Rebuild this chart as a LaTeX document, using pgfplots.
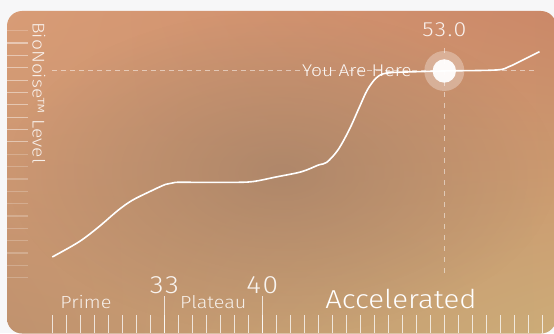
\documentclass[border=0pt]{standalone}
\usepackage{fontspec}
\IfFontExistsTF{Fira Sans Light}{\setmainfont{Fira Sans Light}[FakeStretch=1.13]}{%
  \setmainfont{Fira Sans}[FakeStretch=1.13]}
\usepackage{pgfplots}
\pgfplotsset{compat=1.18}
\usetikzlibrary{fadings,shadings}

\definecolor{pagebg}{RGB}{247,247,248}
\definecolor{cardTL}{RGB}{216,156,118}
\definecolor{cardTR}{RGB}{203,136,104}
\definecolor{cardBL}{RGB}{192,146,110}
\definecolor{cardBR}{RGB}{204,172,120}
\definecolor{cardmid}{RGB}{160,126,102}

\tikzfading[name=centerdark, inner color=transparent!35, outer color=transparent!100]

\begin{document}
\begin{tikzpicture}[x=1pt,y=1pt]
  % page and card
  \path[use as bounding box, fill=pagebg] (0,0) rectangle (554,333);
  \clip (0,0) rectangle (554,333);
  \shade[rounded corners=15pt, upper left=cardTL, upper right=cardTR,
         lower left=cardBL, lower right=cardBR] (7,-0.5) rectangle (556,322);
  \fill[cardmid, path fading=centerdark, fit fading=true]
        (7,-0.5) rectangle (556,322);

  \begin{axis}[
    at={(7pt,0pt)}, anchor=south west,
    width=547pt, height=322pt, scale only axis,
    xmin=21.764, xmax=60.836,
    ymin=-22.39, ymax=107.98,
    axis line style={draw=none},
    tick align=inside,
    % level ruler on the left
    ytick={0,5,...,100}, yticklabels={}, ytick pos=left,
    major tick length=21pt,
    tick style={white, opacity=0.22, line width=1.2pt},
    extra y ticks={55,60,...,95}, extra y tick labels={},
    extra y tick style={tick style={white, opacity=0.3, line width=1.2pt}},
    % age ruler along the bottom
    xtick=\empty, xtick pos=left,
    extra x ticks={25,...,60}, extra x tick labels={},
    extra x tick style={major tick length=18pt,
      tick style={white, opacity=0.75, line width=1.3pt}},
    clip=false,
  ]
    % long ruler marks at the phase boundaries
    \addplot[white, opacity=0.75, line width=1.3pt] coordinates {(33,-22.39) (33,-7.4)};
    \addplot[white, opacity=0.75, line width=1.3pt] coordinates {(40,-22.39) (40,-7.4)};

    % guide lines through the current position
    \addplot[white, opacity=0.5, line width=1.3pt, dash pattern=on 5pt off 4pt]
      coordinates {(25,84) (59.6,84)};
    \addplot[white, opacity=0.5, line width=1.3pt, dash pattern=on 5pt off 6pt]
      coordinates {(53,1.9) (53,95.4)};

    \node[anchor=base, text=white, opacity=0.92, font=\fontsize{17}{20}\selectfont]
      at (axis cs:46.76,81.3) {You Are Here};

    % level curve
    \addplot[white, line width=1.6pt, smooth, tension=0.55] coordinates {
      (25,8.4) (26.9,14.5) (28.3,20.5) (29.7,27.3) (30.7,31.3) (31.9,34.7)
      (33.1,37.8) (33.8,38.6) (35.5,38.6) (37.8,38.6) (39.3,38.9) (41.0,40.8)
      (42.8,42.9) (44.0,45.6) (44.6,46.7) (45.4,51.7) (46.2,59.8) (46.9,68.6)
      (47.5,76.0) (48.1,80.7) (48.6,82.5) (49.2,83.0) (49.8,83.2) (53,83.7)
      (56.7,84.1) (57.6,85.4) (58.6,88.1) (59.8,91.5)};

    % current position marker
    \addplot[only marks, mark=*, mark size=20pt, color=white,
             fill opacity=0.3, draw opacity=0]
      coordinates {(53,83.7)};
    \addplot[only marks, mark=*, mark size=11.7pt, color=white,
             fill opacity=0.95, draw opacity=0]
      coordinates {(53,83.7)};

    \node[anchor=base, text=white, opacity=0.88,
          font=\fontsize{20.5}{24}\selectfont\addfontfeatures{LetterSpace=7}]
      at (axis cs:53,97.6) {53.0};

    % scale labels
    \node[anchor=base, text=white, opacity=0.9,
          font=\fontsize{25}{30}\selectfont\addfontfeatures{LetterSpace=6}]
      at (axis cs:33,-6.2) {33};
    \node[anchor=base, text=white, opacity=0.9,
          font=\fontsize{25}{30}\selectfont\addfontfeatures{LetterSpace=6}]
      at (axis cs:40,-6.2) {40};
    \node[anchor=base, text=white, opacity=0.85, font=\fontsize{17.5}{21}\selectfont]
      at (axis cs:27.4,-12.55) {Prime};
    \node[anchor=base, text=white, opacity=0.85, font=\fontsize{17.5}{21}\selectfont]
      at (axis cs:36.5,-12.55) {Plateau};
    \node[anchor=base, text=white, font=\fontsize{26}{31}\selectfont]
      at (axis cs:49.9,-12.55) {Accelerated};

    \node[rotate=-90, text=white, opacity=0.85, font=\fontsize{17}{20}\selectfont]
      at (axis cs:24.05,74.8) {BioNoise™ Level};
  \end{axis}
\end{tikzpicture}
\end{document}
